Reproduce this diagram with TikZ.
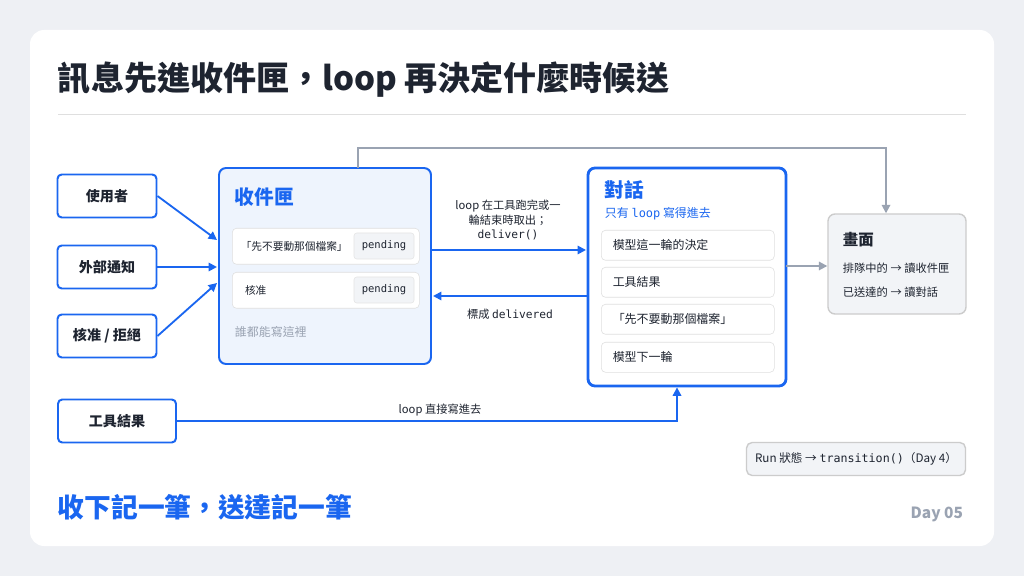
\documentclass[tikz,border=0pt]{standalone}
\usepackage{fontspec}
\setmainfont{Noto Sans CJK TC}
\newfontfamily\codefont{DejaVu Sans Mono}
\usetikzlibrary{positioning,arrows.meta}
\definecolor{bgc}{HTML}{EEF0F4}
\definecolor{blu}{HTML}{1A66F0}
\definecolor{lblu}{HTML}{EEF4FD}
\definecolor{ink}{HTML}{1E2430}
\definecolor{gry}{HTML}{9AA3B2}
\definecolor{lgry}{HTML}{F2F4F7}
\newcommand\px{0.025cm}
\tikzset{
  src/.style={draw=blu, line width=1.4pt, rounded corners=3pt, fill=white, text=ink,
    font=\fontsize{10}{12}\selectfont\bfseries, minimum width=99*\px, minimum height=43*\px},
  row/.style={draw=gray!25, rounded corners=3pt, fill=white, text=ink, font=\fontsize{8.5}{10}\selectfont,
    minimum width=173*\px, minimum height=30*\px, anchor=north west, text width=150*\px},
  slot/.style={draw=gray!25, rounded corners=3pt, fill=white, text=ink, font=\fontsize{7.6}{9}\selectfont,
    minimum width=187*\px, minimum height=36*\px, anchor=north west, text width=170*\px, inner xsep=3pt},
  tag/.style={draw=gray!20, rounded corners=2pt, fill=lgry, text=ink, font=\codefont\fontsize{7.5}{9}\selectfont,
    minimum width=60*\px, minimum height=26*\px},
  flow/.style={blu, line width=1.3pt, -{Triangle[length=6pt,width=6pt]}},
  gflow/.style={gry, line width=1.3pt, -{Triangle[length=6pt,width=6pt]}},
  lbl/.style={text=ink, font=\fontsize{8}{10}\selectfont, align=center}
}
\begin{document}
\begin{tikzpicture}[x=\px, y=-\px]

    % card
    \fill[bgc] (0,0) rectangle (1024,576);
    \fill[white, rounded corners=10pt] (30,30) rectangle (994,546);
    \node[anchor=west, text=ink, font=\fontsize{23.5}{26}\selectfont\bfseries] (title) at (53,80) {訊息先進收件匣，loop 再決定什麼時候送};
    \draw[gray!25] (58,114) -- (966,114);

    % sources
    \node[src] (user) at (107,196) {使用者};
    \node[src] (ext) at (107,267) {外部通知};
    \node[src] (appr) at (107,336) {核准 / 拒絕};
    \node[src, minimum width=118*\px] (tool) at (117,421) {工具結果};

    % inbox
    \node[draw=blu, line width=1.4pt, fill=lblu, rounded corners=5pt, minimum width=212*\px, minimum height=196*\px] (inbox) at (325,266) {};
    \node[anchor=west, text=blu, font=\fontsize{14}{16}\selectfont\bfseries] (inboxT) at (230,197) {收件匣};
    \node[slot] (msg1) at (232,228) {「先不要動那個檔案」};
    \node[slot] (msg2) at (232,272) {\hspace{3pt}核准};
    \node[tag] (tag1) at (384,246) {pending};
    \node[tag] (tag2) at (384,290) {pending};
    \node[anchor=west, text=gry, font=\fontsize{8.5}{10}\selectfont] (anyone) at (230,332) {誰都能寫這裡};

    % conversation
    \node[draw=blu, line width=2pt, fill=white, rounded corners=5pt, minimum width=198*\px, minimum height=218*\px] (conv) at (687,277) {};
    \node[anchor=west, text=blu, font=\fontsize{14}{16}\selectfont\bfseries] (convT) at (600,190) {對話};
    \node[anchor=west, text=blu, font=\fontsize{8.5}{10}\selectfont] (convS) at (600,214) {只有 {\codefont loop} 寫得進去};
    \foreach \y/\t [count=\i] in {230/模型這一輪的決定, 267/工具結果, 304/「先不要動那個檔案」, 342/模型下一輪}{
        \node[row] (turn\i) at (601,\y) {\t};
    }

    % screen
    \node[draw=gray!40, line width=1pt, fill=lgry, rounded corners=5pt, minimum width=138*\px, minimum height=100*\px] (screen) at (897,264) {};
    \node[anchor=west, text=ink, font=\fontsize{11}{13}\selectfont\bfseries] (screenT) at (838,240) {畫面};
    \node[anchor=west, text=ink, font=\fontsize{8}{10}\selectfont] (q1) at (838,268) {排隊中的 → 讀收件匣};
    \node[anchor=west, text=ink, font=\fontsize{8}{10}\selectfont] (q2) at (838,292) {已送達的 → 讀對話};

    \node[draw=gray!40, line width=1pt, fill=lgry, rounded corners=4pt, minimum width=219*\px, minimum height=33*\px,
      text=ink, font=\fontsize{8.3}{10}\selectfont] (run) at (856,459) {Run 狀態 → {\codefont transition()}（Day 4）};

    % connectors
    \coordinate (in1) at (217,240);
    \coordinate (in2) at (217,267);
    \coordinate (in3) at (217,283);
    \draw[flow] (user.east) -- (in1);
    \draw[flow] (ext.east) -- (in2);
    \draw[flow] (appr.east) -- (in3);

    \coordinate (outA) at (431,250);
    \coordinate (inA) at (586,250);
    \draw[flow] (outA) -- (inA);
    \node[lbl] (deliverL) at (508,220) {loop 在工具跑完或一\\輪結束時取出；\\{\codefont deliver()}};
    \coordinate (outB) at (588,296);
    \coordinate (inB) at (433,296);
    \draw[flow] (outB) -- (inB);
    \node[lbl] (markL) at (510,314) {標成 {\codefont delivered}};

    \coordinate (topL) at (358,168);
    \draw[gflow] (topL) |- (886,148) -- (screen.north -| 886,0);
    \coordinate (convR) at (786,266);
    \draw[gflow] (convR) -- (screen.west |- convR);

    \draw[flow] (tool.east) -| (conv.south -| 677,0);
    \node[lbl] (directL) at (440,410) {loop 直接寫進去};

    % footer
    \node[anchor=west, text=blu, font=\fontsize{19}{22}\selectfont\bfseries] (motto) at (53,507) {收下記一筆，送達記一筆};
    \node[anchor=east, text=gry, font=\fontsize{11}{13}\selectfont\bfseries] (day) at (968,514) {Day 05};

\end{tikzpicture}
\end{document}
